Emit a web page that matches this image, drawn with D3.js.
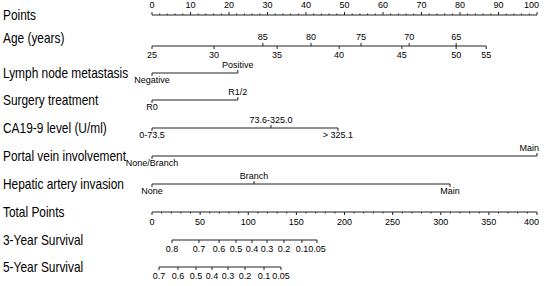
<!DOCTYPE html>
<html>
<head>
<meta charset="utf-8">
<script src="https://cdn.jsdelivr.net/npm/d3@7"></script>
<style>
body{margin:0;background:#fff;}
svg text{font-family:"Liberation Sans",Arial,sans-serif;fill:#000;}
.rowlabel{font-size:14px;}
.tick{font-size:9px;}
</style>
</head>
<body>
<div id="chart"></div>
<script>
// row names on the left
var rowLabels = ["Points","Age (years)","Lymph node metastasis","Surgery treatment",
  "CA19-9 level (U/ml)","Portal vein involvement","Hepatic artery invasion",
  "Total Points","3-Year Survival","5-Year Survival"];

// points scale
var pointTicks = [0,10,20,30,40,50,60,70,80,90,100];

// age (nonlinear): lower part under the line, upper part above
var ageLowValues = [25,30,35,40,45,50,55];
var ageLowPoints = [0,16.1,32.5,48.6,64.9,79.0,86.8];
var ageHighValues = [85,80,75,70,65];
var ageHighPoints = [28.8,41.3,54.3,66.8,79.0];

// categorical variables
var lymphLevels = ["Negative","Positive"];
var lymphPoints = [0,22.3];
var surgeryLevels = ["R0","R1/2"];
var surgeryPoints = [0,22.3];
var caLevels = ["0-73.5","73.6-325.0","> 325.1"];
var caPoints = [0,30.9,48.3];
var portalLevels = ["None/Branch","Main"];
var portalPoints = [0,100];
var hepaticLevels = ["None","Branch","Main"];
var hepaticPoints = [0,26.5,77.4];

// total points scale
var totalTicks = [0,50,100,150,200,250,300,350,400];

// survival probabilities and where they fall on total points
var surv3Labels = ["0.8","0.7","0.6","0.5","0.4","0.3","0.2","0.1","0.05"];
var surv3Total = [20.8,48.8,69.7,87.3,103.9,119.5,137.1,155.8,171.4];
var surv5Labels = ["0.7","0.6","0.5","0.4","0.3","0.2","0.1","0.05"];
var surv5Total = [7.3,27.0,45.7,62.3,79.0,96.6,116.4,134.0];

var w = 550, h = 286;
var rowY = [15,46,73,100,128,156,184,212,240,267];
var lineColor = "#222";

var svg = d3.select("#chart").append("svg")
  .attr("width", w)
  .attr("height", h);

var xPts = d3.scaleLinear().domain([0,100]).range([152,537]);
var xTot = d3.scaleLinear().domain([0,400]).range([152,537]);

// left labels, a bit narrow like the original
svg.selectAll(".rowlabel")
  .data(rowLabels)
  .enter()
  .append("text")
  .attr("class","rowlabel")
  .attr("transform",function(d,i){
    var y = i==1 ? rowY[i]-8 : rowY[i];
    return "translate(3," + y + ") scale(0.85,1)";
  })
  .attr("dy",".35em")
  .text(String);

function hline(x1,x2,y){
  svg.append("line")
    .attr("x1",x1).attr("x2",x2)
    .attr("y1",y).attr("y2",y)
    .attr("stroke",lineColor)
    .attr("stroke-width",1);
}
function vtick(x,y,len){
  svg.append("line")
    .attr("x1",x).attr("x2",x)
    .attr("y1",y).attr("y2",y+len)
    .attr("stroke",lineColor)
    .attr("stroke-width",1);
}
function label(x,y,txt){
  var t = svg.append("text")
    .attr("class","tick")
    .attr("x",x)
    .attr("y",y)
    .attr("text-anchor","middle")
    .text(txt);
  // keep labels inside the plot on the right
  var bb = t.node().getBBox();
  if(bb.x+bb.width>539) t.attr("text-anchor","end").attr("x",539);
}

// Points axis, ticks up, labels above
function drawPoints(){
  var y = rowY[0];
  hline(xPts(0),xPts(100),y);
  d3.range(0,101,2).forEach(function(v){
    if(v%10==0) vtick(xPts(v),y,-3);
    else vtick(xPts(v),y,-1.5);
  });
  pointTicks.forEach(function(v){ label(xPts(v),y-7,v); });
}

// Age axis with labels on both sides
function drawAge(){
  var y = rowY[1];
  hline(xPts(d3.min(ageLowPoints)),xPts(d3.max(ageLowPoints)),y);
  ageLowValues.forEach(function(v,i){
    vtick(xPts(ageLowPoints[i]),y,3);
    label(xPts(ageLowPoints[i]),y+12,v);
  });
  ageHighValues.forEach(function(v,i){
    vtick(xPts(ageHighPoints[i]),y,-3);
    label(xPts(ageHighPoints[i]),y-6,v);
  });
}

// categorical axis; labels below or above, ticks point to labels
function drawFactor(row,levels,pts,sides){
  var y = rowY[row];
  hline(xPts(d3.min(pts)),xPts(d3.max(pts)),y);
  levels.forEach(function(l,i){
    var up = sides[i]=="up";
    vtick(xPts(pts[i]),y,up ? -3 : 3);
    label(xPts(pts[i]),up ? y-5 : y+10,l);
  });
}

function drawTotal(){
  var y = rowY[7];
  hline(xTot(0),xTot(400),y);
  d3.range(0,401,10).forEach(function(v){
    if(v%50==0) vtick(xTot(v),y,3);
    else vtick(xTot(v),y,1.5);
  });
  totalTicks.forEach(function(v){ label(xTot(v),y+13,v); });
}

function drawSurvival(row,labels,totals){
  var y = rowY[row];
  hline(xTot(d3.min(totals)),xTot(d3.max(totals)),y);
  labels.forEach(function(l,i){
    vtick(xTot(totals[i]),y,3);
    label(xTot(totals[i]),y+12,l);
  });
}

drawPoints();
drawAge();
drawFactor(2,lymphLevels,lymphPoints,["down","up"]);
drawFactor(3,surgeryLevels,surgeryPoints,["down","up"]);
drawFactor(4,caLevels,caPoints,["down","up","down"]);
drawFactor(5,portalLevels,portalPoints,["down","up"]);
drawFactor(6,hepaticLevels,hepaticPoints,["down","up","down"]);
drawTotal();
drawSurvival(8,surv3Labels,surv3Total);
drawSurvival(9,surv5Labels,surv5Total);
</script>
</body>
</html>
